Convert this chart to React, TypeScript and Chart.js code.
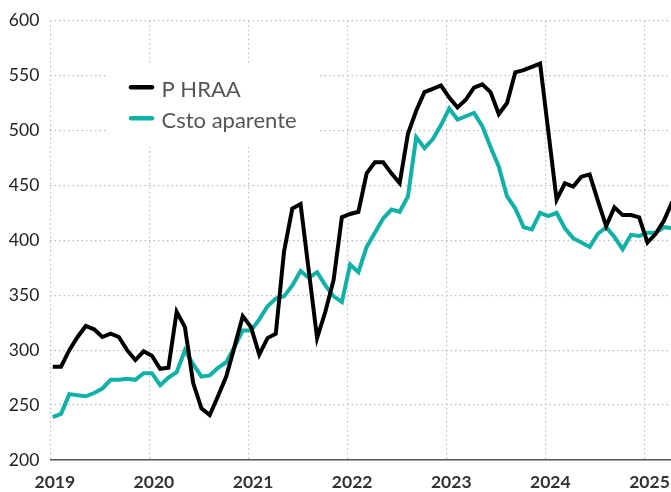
import React, { useEffect, useRef } from "react";
import { Chart, registerables } from "chart.js";

Chart.register(...registerables);

// ---- data (monthly, Jan 2019 .. Apr 2025) ----
const yearLabels = ["2019", "2020", "2021", "2022", "2023", "2024", "2025"];
const seriesNames = ["P HRAA", "Csto aparente"];

const pHraa = [
  285, 285, 300, 312, 322, 319, 312, 315, 312, 300, 291, 299, // 2019
  295, 283, 284, 335, 321, 270, 247, 241, 258, 276, 303, 331, // 2020
  321, 296, 311, 315, 390, 429, 433, 372, 311, 335, 364, 421, // 2021
  424, 426, 461, 471, 471, 461, 452, 497, 518, 535, 538, 541, // 2022
  530, 521, 528, 539, 542, 535, 515, 525, 553, 555, 558, 561, // 2023
  499, 437, 452, 449, 458, 460, 436, 413, 430, 423, 423, 421, // 2024
  398, 406, 418, 435, // 2025
];

const cstoAparente = [
  239, 242, 260, 259, 258, 261, 265, 273, 273, 274, 273, 279, // 2019
  279, 268, 275, 280, 300, 287, 276, 277, 284, 289, 303, 318, // 2020
  318, 328, 340, 347, 349, 359, 372, 366, 371, 359, 349, 344, // 2021
  378, 371, 394, 407, 420, 428, 426, 440, 494, 484, 492, 505, // 2022
  520, 510, 513, 516, 504, 485, 467, 440, 429, 412, 410, 425, // 2023
  422, 425, 411, 402, 398, 394, 406, 412, 403, 392, 405, 404, // 2024
  407, 407, 412, 411, // 2025
];

const yMin = 200;
const yMax = 600;
const yStep = 50;

const FONT = "Lato, 'Open Sans', 'DejaVu Sans', sans-serif";
const BLACK = "#000000";
const TEAL = "#10b1a7";
const GRID = "#bdbdbd";

export default function App() {
  const ref = useRef<HTMLCanvasElement | null>(null);

  useEffect(() => {
    const canvas = ref.current;
    if (!canvas) return;

    const toPoints = (arr: number[]) => arr.map((v, i) => ({ x: i + 0.3, y: v }));

    const boxLegend = {
      id: "boxLegend",
      beforeDatasetsDraw(chart: any) {
        const c = chart.ctx;
        c.save();
        c.fillStyle = "#ffffff";
        c.fillRect(107, 64, 210, 83);
        const rows = [87.3, 118.3];
        chart.data.datasets.forEach((ds: any, k: number) => {
          const y = rows[k];
          c.strokeStyle = ds.borderColor;
          c.lineWidth = 4.5;
          c.lineCap = "round";
          c.beginPath();
          c.moveTo(131, y);
          c.lineTo(152, y);
          c.stroke();
          c.fillStyle = "#555555";
          c.font = `22px ${FONT}`;
          c.textBaseline = "alphabetic";
          c.textAlign = "left";
          c.fillText(ds.label, 161.5, y + 9.5);
        });
        c.restore();
      },
    };

    const chart = new Chart(canvas, {
      type: "line",
      data: {
        datasets: [
          {
            label: seriesNames[0],
            data: toPoints(pHraa),
            borderColor: BLACK,
            backgroundColor: BLACK,
            borderWidth: 4,
            pointRadius: 0,
            tension: 0,
            clip: 0,
          },
          {
            label: seriesNames[1],
            data: toPoints(cstoAparente),
            borderColor: TEAL,
            backgroundColor: TEAL,
            borderWidth: 4,
            pointRadius: 0,
            tension: 0,
            clip: 0,
          },
        ],
      },
      options: {
        animation: false,
        responsive: false,
        devicePixelRatio: 1,
        layout: { padding: { top: 20.7, left: 0, right: 0, bottom: 0 } },
        plugins: {
          legend: { display: false },
          tooltip: { enabled: false },
        },
        scales: {
          x: {
            type: "linear",
            min: 0,
            max: 75.15,
            afterBuildTicks: (s: any) => {
              s.ticks = yearLabels.map((_, k) => ({ value: k * 12 }));
            },
            ticks: {
              autoSkip: false,
              maxRotation: 0,
              callback: (v: any) => yearLabels[Math.round(Number(v) / 12)] ?? "",
              font: { family: FONT, size: 17.5, weight: "bold" },
              color: "#333333",
              padding: 12,
              labelOffset: 4.5,
            },
            grid: { color: GRID, lineWidth: 1.2, drawTicks: false },
            border: { display: true, color: "#555555", width: 1.5, dash: [1.5, 3] },
            afterFit: (s: any) => {
              s.height = 32;
              s.paddingLeft = 0;
              s.paddingRight = 0;
            },
          },
          y: {
            type: "linear",
            min: yMin,
            max: yMax,
            ticks: {
              stepSize: yStep,
              font: { family: FONT, size: 17.5 },
              color: "#222222",
              padding: 11,
            },
            grid: { color: GRID, lineWidth: 1.2, drawTicks: false },
            border: { display: false, dash: [1.5, 3] },
            afterFit: (s: any) => {
              s.width = 50.3;
              s.paddingTop = 0;
              s.paddingBottom = 0;
            },
          },
        },
      },
      plugins: [boxLegend],
    } as any);

    return () => chart.destroy();
  }, []);

  return (
    <div style={{ position: "absolute", left: 0, top: 0, width: 671, height: 492, background: "#fff" }}>
      <canvas ref={ref} width={671} height={492} style={{ display: "block", width: 671, height: 492 }} />
    </div>
  );
}
